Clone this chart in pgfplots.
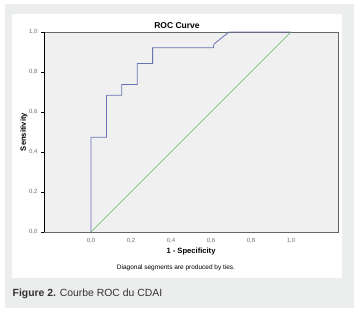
\documentclass[border=0pt]{standalone}
\usepackage{pgfplots}
\pgfplotsset{compat=1.18}
\usepackage{fontspec}
\setmainfont{Liberation Sans}
\definecolor{outerbg}{HTML}{ECEDED}
\definecolor{plotbg}{HTML}{F0F0F0}
\definecolor{roc}{HTML}{6A72B4}
\definecolor{diag}{HTML}{5DBB63}
\definecolor{ticklab}{HTML}{707070}
\definecolor{captxt}{HTML}{333333}
\begin{document}
\begin{tikzpicture}[x=1pt,y=1pt]
\fill[white] (0,0) rectangle (359,313);
\useasboundingbox (0,0) rectangle (359,313);
\fill[outerbg] (5,5) rectangle (354,309);
\fill[white] (12,35) rectangle (342,299);
\begin{axis}[
  at={(44pt,81pt)}, anchor=south west,
  width=294pt, height=200pt, scale only axis,
  xmin=-0.235, xmax=1.235, ymin=0, ymax=1,
  axis background/.style={fill=plotbg},
  axis line style={draw=gray!80!black, line width=0.6pt},
  xtick={0,0.2,0.4,0.6,0.8,1.0},
  ytick={0,0.2,0.4,0.6,0.8,1.0},
  xtick style={draw=none},
  ytick pos=left, ytick align=outside, major tick length=3pt,
  ytick style={black, line width=0.5pt},
  tick label style={font=\fontsize{6}{7}\selectfont, text=ticklab},
  xticklabel shift=2.5pt,
  /pgf/number format/.cd, use comma, fixed, fixed zerofill, precision=1, assume math mode=true,
]
\addplot[diag, line width=0.6pt] coordinates {(0,0) (1,1)};
\addplot[roc, line width=0.8pt] coordinates {
  (0,0) (0,0.474) (0.077,0.474) (0.077,0.684) (0.154,0.684) (0.154,0.737)
  (0.231,0.737) (0.231,0.842) (0.308,0.842) (0.308,0.921) (0.612,0.921)
  (0.615,0.94) (0.69,1) (1,1)};
\draw[black, line width=0.7pt] (rel axis cs:0,1) -- (rel axis cs:0,0) -- (rel axis cs:1,0);
\end{axis}
\node[font=\bfseries\fontsize{8.5}{10}\selectfont] at (177,287) {ROC Curve};
\node[font=\bfseries\fontsize{7.6}{9}\selectfont] at (191,61) {1 - Specificity};
\node[font=\bfseries\fontsize{7.6}{9}\selectfont, rotate=90] at (24,181) {Sensitivity};
\node[font=\fontsize{6.5}{8}\selectfont] at (176,45) {Diagonal segments are produced by ties.};
\node[anchor=west, inner sep=0pt, text=captxt, font=\fontsize{10.4}{12}\selectfont] at (12.5,19) {\textbf{Figure 2.} Courbe ROC du CDAI};
\end{tikzpicture}
\end{document}
